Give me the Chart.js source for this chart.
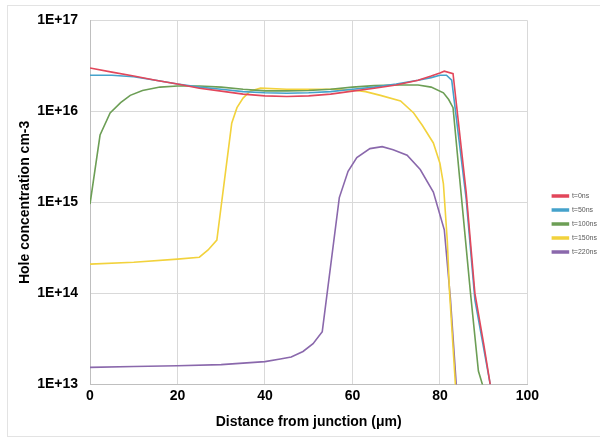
<!DOCTYPE html>
<html>
<head>
<meta charset="utf-8">
<script src="https://cdn.jsdelivr.net/npm/chart.js@4.4.0/dist/chart.umd.min.js"></script>
<style>
  html, body { margin: 0; padding: 0; background: #fff; }
  #wrap { width: 600px; height: 439px; }
</style>
</head>
<body>
<div id="wrap"><canvas id="chart" width="600" height="439"></canvas></div>
<script>
// distance (um) and hole concentration (cm-3)
const t0X = [0, 5, 10, 15, 20, 25, 30, 35, 40, 45, 50, 55, 60, 65, 70, 75, 78, 80, 81, 83, 86, 88, 90, 91.5];
const t0Y = [3.0e16, 2.7e16, 2.45e16, 2.2e16, 2.0e16, 1.8e16, 1.67e16, 1.55e16, 1.48e16, 1.46e16, 1.48e16, 1.55e16,
  1.67e16, 1.8e16, 1.95e16, 2.2e16, 2.45e16, 2.65e16, 2.77e16, 2.6e16, 1.3e15, 1.0e14, 2.8e13, 1.0e13];

const t50X = [0, 5, 10, 15, 20, 25, 30, 35, 40, 45, 50, 55, 60, 65, 70, 75, 78, 80, 81.5, 82.7, 86, 88, 90, 91.5];
const t50Y = [2.5e16, 2.5e16, 2.4e16, 2.2e16, 2.0e16, 1.85e16, 1.75e16, 1.65e16, 1.6e16, 1.58e16, 1.6e16, 1.65e16,
  1.75e16, 1.85e16, 2.0e16, 2.2e16, 2.35e16, 2.5e16, 2.5e16, 2.2e16, 1.1e15, 8.5e13, 2.5e13, 1.0e13];

const t100X = [0, 2.3, 4.6, 7, 9.2, 12, 16, 20, 25, 30, 35, 40, 45, 50, 55, 60, 65, 70, 75, 78, 80.8, 82, 83, 84.4, 87, 88.8, 90];
const t100Y = [9.6e14, 5.5e15, 9.6e15, 1.25e16, 1.5e16, 1.7e16, 1.85e16, 1.9e16, 1.9e16, 1.85e16, 1.75e16, 1.68e16, 1.68e16,
  1.7e16, 1.75e16, 1.85e16, 1.92e16, 1.95e16, 1.95e16, 1.85e16, 1.6e16, 1.35e16, 1.1e16, 2.1e15, 1.0e14, 1.4e13, 9e12];

const t150X = [0, 10, 20, 25, 27, 29, 32.4, 33.6, 35, 36.6, 39, 45, 50, 55, 60, 63, 66.4, 71, 74, 76, 78.5, 80, 80.8, 81.7, 82.2, 83.6];
const t150Y = [2.1e14, 2.2e14, 2.38e14, 2.5e14, 3.0e14, 3.85e14, 7.4e15, 1.1e16, 1.4e16, 1.67e16, 1.8e16, 1.75e16, 1.75e16,
  1.75e16, 1.72e16, 1.65e16, 1.5e16, 1.3e16, 9.6e15, 7e15, 4.5e15, 2.7e15, 1.6e15, 3.7e14, 1.03e14, 9e12];

const t220X = [0, 10, 20, 30, 40, 43.5, 46, 48.7, 51, 53.1, 57, 59, 61, 64, 66.8, 69.3, 72.5, 75.5, 78.5, 81, 82.4, 83.8];
const t220Y = [1.54e13, 1.57e13, 1.6e13, 1.65e13, 1.78e13, 1.9e13, 2.0e13, 2.3e13, 2.8e13, 3.8e13, 1.13e15, 2.2e15, 3.1e15,
  3.9e15, 4.1e15, 3.8e15, 3.3e15, 2.3e15, 1.3e15, 5e14, 8.8e13, 9e12];

const seriesNames = ['t=0ns', 't=50ns', 't=100ns', 't=150ns', 't=220ns'];
const seriesColors = ['#E2475B', '#45A2CB', '#6C9E55', '#F2D23C', '#8A68AC'];
const xTicks = [0, 20, 40, 60, 80, 100];
const yExponents = [13, 14, 15, 16, 17];

const fontFamily = "'Liberation Sans', Arial, sans-serif";

function toPoints(xs, ys) {
  return xs.map((x, i) => ({ x: x, y: ys[i] }));
}

const allX = [t0X, t50X, t100X, t150X, t220X];
const allY = [t0Y, t50Y, t100Y, t150Y, t220Y];

const datasets = seriesNames.map((name, i) => ({
  label: name,
  data: toPoints(allX[i], allY[i]),
  borderColor: seriesColors[i],
  backgroundColor: seriesColors[i],
  borderWidth: 1.6,
  pointRadius: 0,
  tension: 0,
  fill: false
}));

// light frame round the whole chart, like the Excel chart area
const framePlugin = {
  id: 'frame',
  beforeDraw(chart) {
    const ctx = chart.ctx;
    ctx.save();
    ctx.fillStyle = '#ffffff';
    ctx.fillRect(0, 0, chart.width, chart.height);
    ctx.strokeStyle = '#e3e3e3';
    ctx.lineWidth = 1;
    ctx.strokeRect(7.5, 5.5, chart.width, chart.height - 8);
    ctx.restore();
  }
};

new Chart(document.getElementById('chart'), {
  type: 'line',
  data: { datasets: datasets },
  plugins: [framePlugin],
  options: {
    responsive: false,
    animation: false,
    layout: { padding: { left: 13, top: 13, right: -7, bottom: 4 } },
    plugins: {
      tooltip: { enabled: false },
      legend: {
        position: 'right',
        align: 'center',
        labels: {
          boxWidth: 16,
          boxHeight: 2,
          padding: 7,
          color: '#595959',
          font: { family: fontFamily, size: 7 }
        }
      }
    },
    scales: {
      x: {
        type: 'linear',
        min: 0,
        max: 100,
        afterBuildTicks: scale => { scale.ticks = xTicks.map(v => ({ value: v })); },
        ticks: {
          padding: 3,
          color: '#000',
          font: { family: fontFamily, size: 14, weight: 'bold' }
        },
        grid: { color: '#d9d9d9', drawTicks: false },
        border: { color: '#bfbfbf' },
        title: {
          display: true,
          text: 'Distance from junction (\u03bcm)',
          color: '#000',
          padding: { top: 7, bottom: 4 },
          font: { family: fontFamily, size: 14, weight: 'bold' }
        }
      },
      y: {
        type: 'logarithmic',
        min: 1e13,
        max: 1e17,
        afterBuildTicks: scale => { scale.ticks = yExponents.map(e => ({ value: Math.pow(10, e) })); },
        afterFit: scale => { scale.width = 77; },
        ticks: {
          padding: 12,
          color: '#000',
          font: { family: fontFamily, size: 14, weight: 'bold' },
          callback: value => '1E+' + Math.round(Math.log10(value))
        },
        grid: { color: '#d9d9d9', drawTicks: false },
        border: { color: '#bfbfbf' },
        title: {
          display: true,
          text: 'Hole concentration cm-3',
          color: '#000',
          padding: { top: 4, bottom: 4 },
          font: { family: fontFamily, size: 14, weight: 'bold' }
        }
      },
      gap: {
        // empty axis, only keeps space between plot and legend
        type: 'linear',
        position: 'right',
        display: true,
        grid: { display: false, drawTicks: false },
        border: { display: false },
        ticks: { display: false },
        afterFit: scale => { scale.width = 18; }
      }
    }
  }
});
</script>
</body>
</html>
